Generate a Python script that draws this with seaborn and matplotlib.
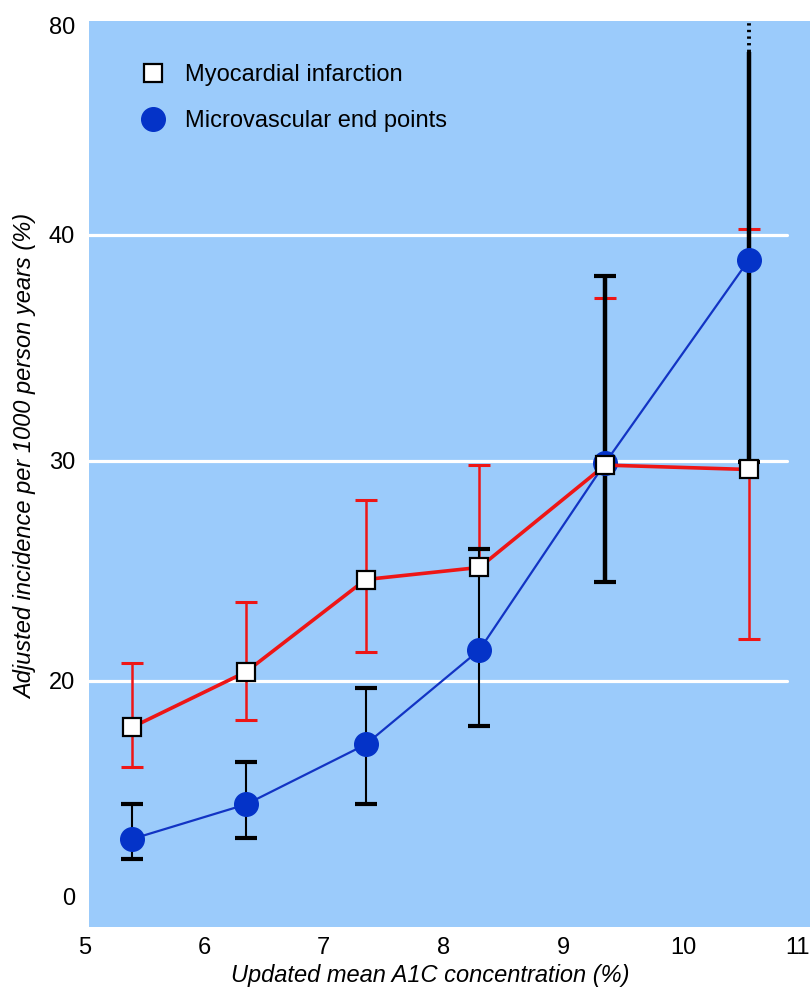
import numpy as np
import matplotlib
matplotlib.use("Agg")
import matplotlib.pyplot as plt
from matplotlib.lines import Line2D
import seaborn as sns

# Updated mean A1C (%) of each category
a1c = [5.4, 6.35, 7.35, 8.3, 9.35, 10.55]

# Myocardial infarction, incidence with CI (nan = lower limit not drawn)
mi = [15.7, 20.4, 24.6, 25.15, 29.8, 29.6]
mi_lo = [12.0, 16.4, 21.3, np.nan, np.nan, 21.9]
mi_hi = [20.8, 23.6, 28.2, 29.8, 37.2, 41.1]

# Microvascular end points, incidence with CI
mv = [5.35, 8.55, 14.1, 21.4, 29.9, 38.9]
mv_lo = [3.5, 5.4, 8.6, 15.8, 24.5, 29.95]
mv_hi = [8.6, 12.5, 19.35, 26.0, 38.2, 75.0]
mv_offscale = [False, False, False, False, False, True]  # CI runs past the top

y_ticks = [0, 20, 30, 40, 80]
x_ticks = [6, 7, 8, 9, 10]
x_edge_labels = ["5", "11"]
labels = ["Myocardial infarction", "Microvascular end points"]

BG = "#9BCBFB"
RED = "#EE1616"
BLUE = "#0433C8"

sns.set_style("white")
plt.rcParams["font.family"] = ["Liberation Sans", "DejaVu Sans"]
plt.rcParams["text.color"] = "black"
plt.rcParams["axes.labelcolor"] = "black"

# broken (piecewise linear) y axis: the ticks are almost evenly spaced
knot_val = [-100, 0, 20, 30, 40, 80, 400]
knot_pos = [-1080, 0, 216, 436, 661.7, 871.2, 2547]


def fwd(v):
    return np.interp(v, knot_val, knot_pos)


def inv(p):
    return np.interp(p, knot_pos, knot_val)


fig = plt.figure(figsize=(8.1, 9.9), dpi=100)
ax = fig.add_axes([0.1099, 0.0636, 0.8901, 0.9155])
ax.set_facecolor(BG)
for s in ax.spines.values():
    s.set_visible(False)

ax.set_yscale("function", functions=(fwd, inv))
ax.set_ylim(-2.8, 80.9)
ax.set_xlim(5.04, 11.06)

for yv in y_ticks[1:-1]:
    ax.axhline(yv, xmin=0, xmax=0.968, color="white", lw=2.3, zorder=0.5)

# confidence intervals
mi_a = np.array(mi)
mi_lo_a = np.array(mi_lo)
ax.vlines(a1c, np.where(np.isnan(mi_lo_a), mi_a, mi_lo_a), mi_hi,
          color=RED, lw=1.8, zorder=2)
ax.scatter(a1c, mi_hi, marker="_", s=16**2, color=RED, linewidths=2.2, zorder=2)
ax.scatter(a1c, mi_lo, marker="_", s=16**2, color=RED, linewidths=2.2, zorder=2)

bar_w = [1.5, 1.5, 1.5, 1.5, 3.2, 3.2]
off = np.array(mv_offscale)
ax.vlines(a1c, mv_lo, mv_hi, color="black", lw=bar_w, zorder=3)
cap_hi = np.where(off, np.nan, mv_hi)
ax.scatter(a1c, cap_hi, marker="_", s=16**2, color="black", linewidths=3, zorder=3)
ax.scatter(a1c, mv_lo, marker="_", s=16**2, color="black", linewidths=3, zorder=3)
top = ax.get_ylim()[1]
for xv, hv, o in zip(a1c, mv_hi, mv_offscale):
    if o:
        ax.vlines(xv, hv, top, color="black", lw=2.8, linestyles=(0, (0.6, 1.1)),
                  zorder=3)

# series lines
sns.lineplot(x=a1c, y=mv, ax=ax, color="#1234C4", lw=1.6, marker="o", ms=17,
             mfc=BLUE, mec=BLUE, mew=1, zorder=4)
sns.lineplot(x=a1c, y=mi, ax=ax, color=RED, lw=2.6, marker="s", ms=12.5,
             mfc="white", mec="black", mew=1.6, zorder=5)

# axes ticks
ax.set_yticks(y_ticks)
ax.set_yticklabels([str(t) for t in y_ticks])
ax.set_xticks(x_ticks)
ax.set_xticklabels([str(t) for t in x_ticks])
ax.tick_params(axis="x", direction="in", length=12, width=2.2, color="white",
               labelcolor="black", pad=7, labelsize=17)
ax.tick_params(axis="y", length=0, pad=10, labelsize=17, labelcolor="black")
# end labels of the x axis sit at the very edges of the plot area
ax.annotate(x_edge_labels[0], xy=(0, 0), xycoords="axes fraction",
            xytext=(-3, -7), textcoords="offset points",
            ha="center", va="top", fontsize=17, annotation_clip=False)
ax.annotate(x_edge_labels[1], xy=(1, 0), xycoords="axes fraction",
            xytext=(0, -7), textcoords="offset points",
            ha="right", va="top", fontsize=17, annotation_clip=False)

ax.set_xlabel("Updated mean A1C concentration (%)", fontsize=17, style="italic")
ax.set_ylabel("Adjusted incidence per 1000 person years (%)", fontsize=17,
              style="italic")
ax.xaxis.set_label_coords(0.473, -0.041)
ax.yaxis.set_label_coords(-0.072, 0.519)

handles = [
    Line2D([], [], ls="none", marker="s", ms=12.5, mfc="white", mec="black", mew=1.6),
    Line2D([], [], ls="none", marker="o", ms=17, mfc=BLUE, mec=BLUE),
]
ax.legend(handles, labels, loc="upper left", bbox_to_anchor=(0.072, 0.952),
          frameon=False, fontsize=17, handlelength=1.0, handletextpad=0.85,
          labelspacing=1.0, borderpad=0, borderaxespad=0)

fig.savefig("out.png", dpi=100)
